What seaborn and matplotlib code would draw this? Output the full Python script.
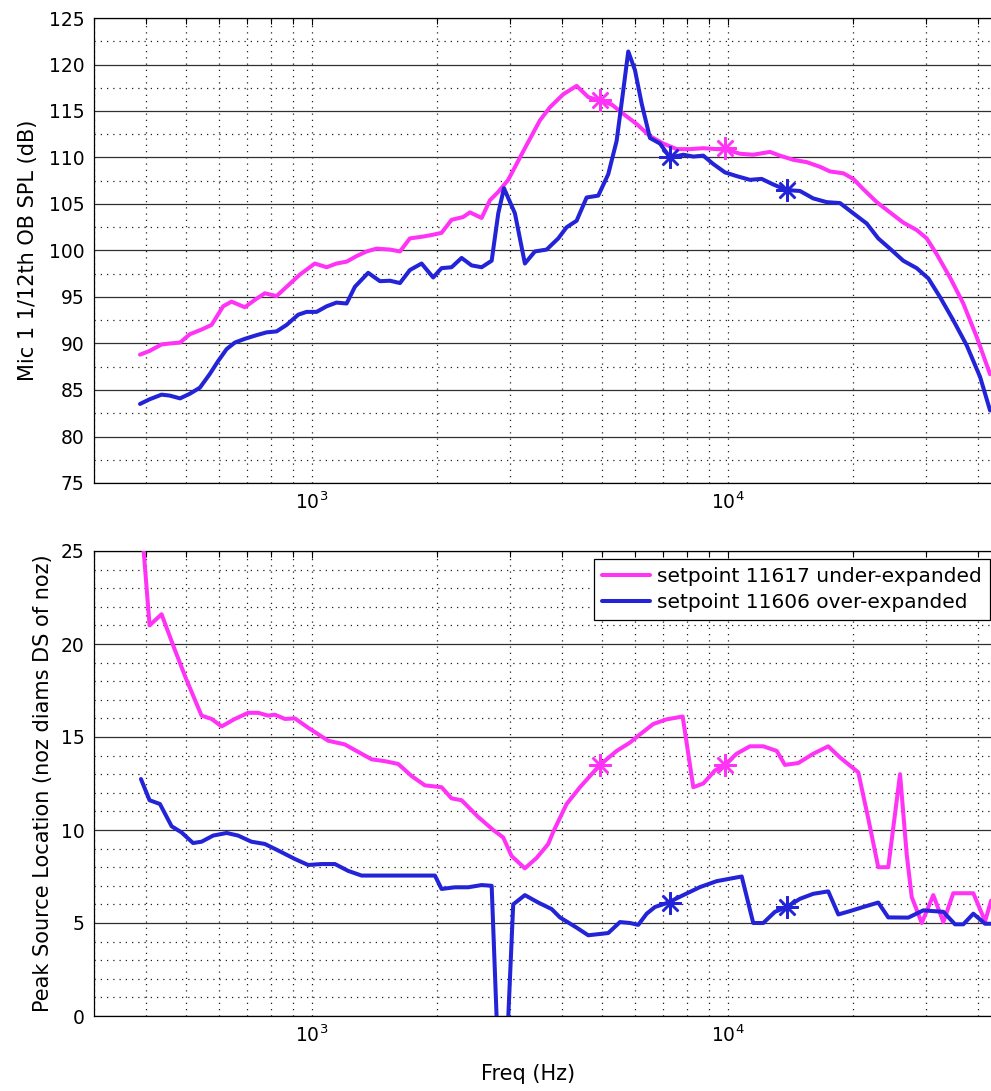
import matplotlib
matplotlib.use("Agg")
import matplotlib.pyplot as plt
import matplotlib.ticker as mticker
import pandas as pd
import seaborn as sns

# ---------------- data ----------------
spl_freq_under = [387, 408, 436, 456, 483, 510, 544, 575, 613, 642,
                  691, 731, 772, 824, 871, 937, 1018, 1087, 1148, 1214,
                  1283, 1356, 1433, 1543, 1631, 1723, 1855, 1960, 2053, 2170,
                  2314, 2402, 2563, 2683, 2810, 2969, 3256, 3539, 3740, 4026,
                  4335, 4623, 4932, 5262, 5611, 6043, 6505, 7002, 7542, 8118,
                  8737, 9410, 9851, 10710, 11520, 12640, 13360, 14380, 15490, 16670,
                  17620, 18970, 20040, 21180, 22820, 24550, 26430, 28470, 30090, 31800,
                  34220, 36840, 39680, 42720]
spl_under = [88.8, 89.2, 89.9, 90.0, 90.1, 91.0, 91.5, 92.0, 94.0, 94.5,
             93.9, 94.7, 95.4, 95.1, 96.1, 97.4, 98.6, 98.2, 98.6, 98.8,
             99.4, 99.9, 100.2, 100.1, 99.9, 101.3, 101.5, 101.7, 101.9, 103.3,
             103.6, 104.1, 103.5, 105.4, 106.3, 107.6, 111.0, 114.0, 115.4, 116.8,
             117.7, 116.5, 116.1, 115.7, 114.7, 113.6, 112.3, 111.5, 110.9, 110.9,
             111.0, 110.9, 110.9, 110.4, 110.3, 110.6, 110.2, 109.75, 109.5, 109.0,
             108.5, 108.3, 107.7, 106.6, 105.2, 104.1, 103.0, 102.2, 101.3, 99.6,
             97.1, 94.3, 90.7, 86.7]

spl_freq_over = [387, 408, 436, 456, 483, 510, 539, 569, 596, 625,
                 654, 691, 738, 780, 824, 871, 929, 973, 1028, 1087,
                 1148, 1214, 1271, 1368, 1460, 1543, 1631, 1723, 1838, 1960,
                 2053, 2170, 2294, 2424, 2563, 2709, 2810, 2900, 3081, 3256,
                 3442, 3672, 3916, 4102, 4335, 4582, 4886, 5164, 5410, 5611,
                 5769, 5987, 6213, 6505, 6876, 7267, 7823, 8268, 8737, 9235,
                 9851, 10510, 11310, 12070, 12870, 13860, 14920, 16060, 17300, 18620,
                 20040, 21590, 23010, 24550, 26430, 28470, 30360, 32380, 34850, 37540,
                 40430, 42720]
spl_over = [83.5, 84.0, 84.5, 84.4, 84.1, 84.6, 85.25, 86.7, 88.1, 89.4,
            90.1, 90.5, 90.9, 91.2, 91.3, 92.0, 93.1, 93.4, 93.4, 94.0,
            94.4, 94.3, 96.1, 97.6, 96.7, 96.75, 96.5, 97.9, 98.6, 97.1,
            98.1, 98.2, 99.2, 98.4, 98.2, 98.9, 104.0, 106.7, 104.0, 98.6,
            99.9, 100.1, 101.3, 102.5, 103.2, 105.7, 105.9, 108.2, 111.8, 117.2,
            121.4, 119.4, 115.8, 112.1, 111.5, 110.0, 110.3, 110.1, 110.2, 109.3,
            108.4, 108.0, 107.6, 107.7, 107.1, 106.5, 106.4, 105.6, 105.2, 105.1,
            104.0, 102.9, 101.3, 100.2, 98.9, 98.1, 97.0, 95.0, 92.5, 89.8,
            86.4, 82.8]

loc_freq_under = [387, 408, 436, 469, 500, 544, 575, 608, 654, 704,
                  744, 786, 816, 863, 912, 981, 1096, 1202, 1294, 1394,
                  1501, 1615, 1740, 1872, 2053, 2170, 2294, 2515, 2733, 2888,
                  3025, 3256, 3475, 3705, 3809, 4102, 4416, 4932, 5410, 5823,
                  6156, 6626, 7135, 7796, 8268, 8737, 9322, 9851, 10510, 11310,
                  12180, 13120, 13730, 14780, 16060, 17450, 18620, 20600, 21780, 23010,
                  24320, 25960, 26930, 27690, 29270, 31200, 32990, 34850, 38940, 41560,
                  42960]
loc_under = [27.5, 21.0, 21.6, 19.7, 18.1, 16.15, 15.97, 15.57, 15.97, 16.3,
             16.3, 16.15, 16.2, 15.97, 16.0, 15.5, 14.8, 14.6, 14.2, 13.8,
             13.7, 13.55, 12.9, 12.4, 12.3, 11.7, 11.6, 10.7, 10.0, 9.6,
             8.6, 7.94, 8.5, 9.25, 9.9, 11.4, 12.3, 13.5, 14.25, 14.7,
             15.14, 15.7, 15.95, 16.1, 12.3, 12.5, 13.2, 13.5, 14.1, 14.5,
             14.5, 14.25, 13.5, 13.6, 14.1, 14.5, 13.9, 13.1, 10.6, 8.0,
             8.0, 13.0, 8.7, 6.4, 5.0, 6.5, 5.05, 6.6, 6.6, 5.1,
             6.2]

loc_freq_over = [389, 408, 432, 461, 487, 519, 544, 580, 625, 666,
                 717, 772, 831, 912, 981, 1057, 1138, 1225, 1319, 1446,
                 1586, 1771, 1979, 2053, 2211, 2379, 2563, 2709, 2789, 2964,
                 3052, 3256, 3505, 3775, 3953, 4335, 4623, 5164, 5510, 5823,
                 6098, 6388, 6688, 7198, 7823, 8578, 9410, 10810, 11520, 12180,
                 12990, 13860, 14920, 16060, 17450, 18450, 19680, 21180, 23010, 24320,
                 27170, 29530, 32990, 35190, 36840, 38940, 41560, 42960]
loc_over = [12.74, 11.6, 11.4, 10.2, 9.87, 9.3, 9.37, 9.7, 9.84, 9.7,
            9.37, 9.25, 8.9, 8.44, 8.12, 8.17, 8.17, 7.8, 7.55, 7.55,
            7.55, 7.55, 7.55, 6.83, 6.92, 6.92, 7.04, 7.0, -0.5, -0.5,
            6.0, 6.5, 6.1, 5.75, 5.3, 4.75, 4.34, 4.46, 5.05, 5.0,
            4.9, 5.5, 5.86, 6.1, 6.5, 6.93, 7.25, 7.5, 5.0, 5.0,
            5.6, 5.86, 6.3, 6.57, 6.7, 5.46, 5.64, 5.86, 6.1, 5.3,
            5.29, 5.68, 5.6, 4.93, 4.93, 5.5, 4.96, 4.96]

star_freq_under = [4930, 9850]
star_spl_under = [116.2, 111.0]
star_loc_under = [13.5, 13.5]
star_freq_over = [7250, 13860]
star_spl_over = [110.0, 106.5]
star_loc_over = [6.1, 5.85]

legend_labels = ["setpoint 11617 under-expanded", "setpoint 11606 over-expanded"]
x_label = "Freq (Hz)"
y_label_top = "Mic 1 1/12th OB SPL (dB)"
y_label_bottom = "Peak Source Location (noz diams DS of noz)"

# ---------------- style ----------------
sns.set_theme(style="white")
plt.rcParams["font.family"] = ["DejaVu Sans"]
plt.rcParams["mathtext.default"] = "regular"
plt.rcParams["axes.edgecolor"] = "black"
plt.rcParams["axes.linewidth"] = 0.9
plt.rcParams["text.color"] = "black"
plt.rcParams["axes.labelcolor"] = "black"
plt.rcParams["xtick.color"] = "black"
plt.rcParams["ytick.color"] = "black"
plt.rcParams["xtick.labelcolor"] = "black"
plt.rcParams["ytick.labelcolor"] = "black"

MAGENTA = "#ff33f5"
BLUE = "#2323d8"
LW = 2.9
STAR = (8, 2, 0)

W, H = 991, 1091
fig = plt.figure(figsize=(W / 100, H / 100), dpi=100)

left_px, right_px = 94, 1018.5
ax_w = (right_px - left_px) / W
ax_h = 465 / H
ax_top = fig.add_axes([left_px / W, 1 - 483 / H, ax_w, ax_h])
ax_bot = fig.add_axes([left_px / W, 1 - 1016 / H, ax_w, ax_h])

for ax in (ax_top, ax_bot):
    ax.set_xscale("log")


def draw_lines(ax, fu, vu, fo, vo, sfu, svu, sfo, svo):
    d_u = pd.DataFrame({"f": fu, "v": vu})
    d_o = pd.DataFrame({"f": fo, "v": vo})
    sns.lineplot(data=d_u, x="f", y="v", ax=ax, color=MAGENTA, lw=LW,
                 estimator=None, sort=False, zorder=3, legend=False)
    sns.lineplot(data=d_o, x="f", y="v", ax=ax, color=BLUE, lw=LW,
                 estimator=None, sort=False, zorder=3, legend=False)
    s_u = pd.DataFrame({"f": sfu, "v": svu})
    s_o = pd.DataFrame({"f": sfo, "v": svo})
    sns.lineplot(data=s_u, x="f", y="v", ax=ax, color=MAGENTA, linestyle="none",
                 marker=STAR, markersize=16, markeredgewidth=1.8,
                 markeredgecolor=MAGENTA, estimator=None, sort=False, zorder=4,
                 legend=False)
    sns.lineplot(data=s_o, x="f", y="v", ax=ax, color=BLUE, linestyle="none",
                 marker=STAR, markersize=16, markeredgewidth=1.8,
                 markeredgecolor=BLUE, estimator=None, sort=False, zorder=4,
                 legend=False)


draw_lines(ax_top, spl_freq_under, spl_under, spl_freq_over, spl_over,
           star_freq_under, star_spl_under, star_freq_over, star_spl_over)
draw_lines(ax_bot, loc_freq_under, loc_under, loc_freq_over, loc_over,
           star_freq_under, star_loc_under, star_freq_over, star_loc_over)

dot = (0, (1, 4))
for ax, (y0, y1, ymaj, ymin) in ((ax_top, (75, 125, 5, 2.5)),
                                 (ax_bot, (0, 25, 5, 1))):
    ax.set_xlim(300, 50000)
    ax.set_ylim(y0, y1)
    ax.xaxis.set_major_locator(mticker.LogLocator(base=10))
    ax.xaxis.set_minor_locator(mticker.LogLocator(base=10, subs=range(2, 10)))
    ax.xaxis.set_minor_formatter(mticker.NullFormatter())
    ax.yaxis.set_major_locator(mticker.MultipleLocator(ymaj))
    ax.yaxis.set_minor_locator(mticker.MultipleLocator(ymin))
    ax.grid(False)
    ax.grid(True, which="major", axis="y", color="#303030", lw=0.9, ls="-", zorder=1)
    ax.grid(True, which="minor", axis="y", color="#202020", lw=0.9, ls=dot, zorder=1)
    ax.grid(True, which="both", axis="x", color="#202020", lw=0.9, ls=dot, zorder=1)
    ax.set_axisbelow(True)
    ax.tick_params(axis="both", which="both", direction="in", top=True, right=True,
                   color="black", width=0.8)
    ax.tick_params(axis="both", which="major", length=5)
    ax.tick_params(axis="both", which="minor", length=4)
    ax.tick_params(axis="x", labelsize=13.5, pad=6, labelcolor="black")
    ax.tick_params(axis="y", labelsize=13.5, pad=7, labelcolor="black")
    ax.set_xlabel("")
    ax.set_ylabel("")
    for sp in ax.spines.values():
        sp.set_color("black")
        sp.set_linewidth(0.9)
    ax.set_facecolor("white")

ax_top.set_ylabel(y_label_top, fontsize=15, color="black")
ax_top.yaxis.set_label_coords((38 - left_px) / (right_px - left_px), 0.5)
ax_bot.set_ylabel(y_label_bottom, fontsize=15, color="black")
ax_bot.yaxis.set_label_coords((53 - left_px) / (right_px - left_px), 0.5)
ax_bot.set_xlabel(x_label, fontsize=15, color="black")
ax_bot.xaxis.set_label_coords((528 - left_px) / (right_px - left_px), -(1064 - 1016) / 465)

line_u, line_o = ax_bot.get_lines()[0], ax_bot.get_lines()[1]
leg = ax_bot.legend([line_u, line_o], legend_labels, loc="upper right",
                    bbox_to_anchor=(990 / W, 1 - 559 / H), bbox_transform=fig.transFigure,
                    borderaxespad=0, fontsize=14.5, frameon=True, fancybox=False,
                    framealpha=1, edgecolor="black", handlelength=2.4,
                    handletextpad=0.35, labelspacing=0.35, borderpad=0.4)
leg.get_frame().set_linewidth(0.9)
for t in leg.get_texts():
    t.set_color("black")
leg.set_zorder(10)

fig.savefig("out.png", dpi=100, facecolor="white")
